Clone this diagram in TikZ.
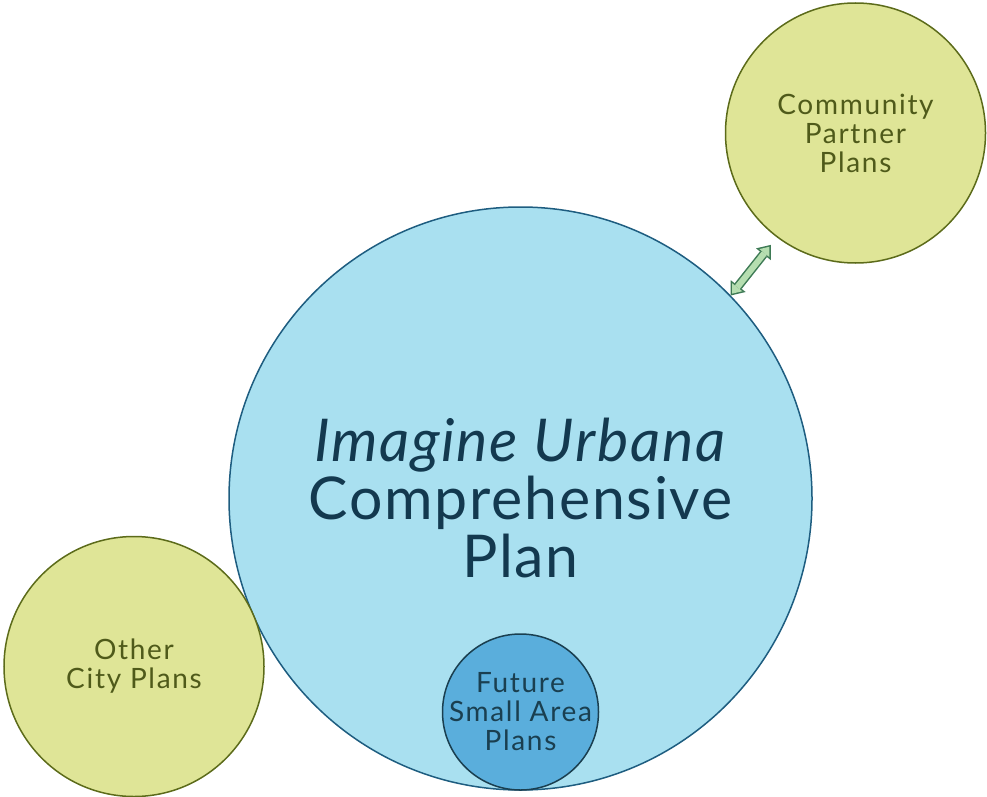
\documentclass[tikz,border=0pt]{standalone}
\usepackage{fontspec}
\setmainfont{Lato}
\usepackage{tikz}
\usetikzlibrary{arrows.meta, positioning}
\usepackage{xcolor}

\definecolor{planblue}{HTML}{A9E0F0}
\definecolor{planedge}{HTML}{1E5D80}
\definecolor{plantext}{HTML}{13394F}
\definecolor{smallblue}{HTML}{5AAEDC}
\definecolor{smalledge}{HTML}{1A3F50}
\definecolor{partnerfill}{HTML}{DFE597}
\definecolor{partneredge}{HTML}{5C6B1A}
\definecolor{partnertext}{HTML}{4F5A1A}
\definecolor{linkfill}{HTML}{B5DEB0}
\definecolor{linkedge}{HTML}{3E7A55}

\newfontfamily\bigfont[LetterSpace=3]{Lato}
\newfontfamily\smallfont[LetterSpace=6]{Lato}

\tikzstyle{bigplan} = [circle, inner sep=0pt, minimum size=583pt, fill=planblue, draw=planedge, line width=1.5pt, text=plantext, align=center, font=\bigfont\fontsize{59}{58}\selectfont]
\tikzstyle{sideplan} = [circle, inner sep=0pt, minimum size=260pt, fill=partnerfill, draw=partneredge, line width=1.5pt, text=partnertext, align=center, font=\smallfont\fontsize{28}{29}\selectfont]
\tikzstyle{areaplan} = [circle, inner sep=-20pt, minimum size=156pt, fill=smallblue, draw=smalledge, line width=1.5pt, text=smalledge, align=center, font=\smallfont\fontsize{28}{29}\selectfont]
\tikzstyle{linkout} = [linkedge, line width=9pt, {Triangle[length=12pt,width=19pt,line width=0pt]}-{Triangle[length=12pt,width=19pt,line width=0pt]}]
\tikzstyle{linkin} = [linkfill, line width=6pt, {Triangle[length=8.1pt,width=12.8pt,line width=0pt]}-{Triangle[length=8.1pt,width=12.8pt,line width=0pt]}]

\begin{document}
\begin{tikzpicture}[x=1pt,y=-1pt]

% Page size
\useasboundingbox (0,0) rectangle (987,797);

% Main plan
\node[bigplan] (comp) at (520.5,498.5) {\textit{Imagine Urbana}\\Comprehensive\\Plan};

% Small area plans inside
\node[areaplan] (small) at (520.5,712) {Future\\Small Area\\Plans};

% Other plans
\node[sideplan] (city) at (134,666.5) {Other\\City Plans};
\node[sideplan] (partner) at (855.5,133) {Community\\Partner\\Plans};

% Two-way link (outline, then fill)
\draw[linkout, shorten <=0pt, shorten >=9.5pt] (comp.44) -- (partner.233);
\draw[linkin, shorten <=2.4pt, shorten >=11.9pt] (comp.44) -- (partner.233);

\end{tikzpicture}
\end{document}
